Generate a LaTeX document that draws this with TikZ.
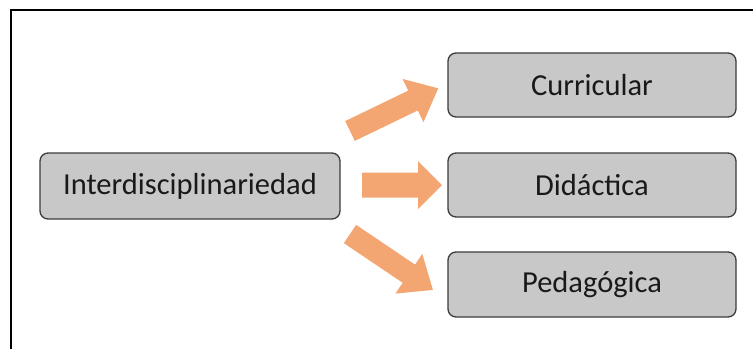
\documentclass[tikz,border=0pt]{standalone}
\usepackage{fontspec}
\setmainfont{Carlito}
\definecolor{boxfill}{RGB}{200,200,200}
\definecolor{boxline}{RGB}{60,60,60}
\definecolor{arrowfill}{RGB}{244,166,114}
\begin{document}
\begin{tikzpicture}[x=1pt,y=1pt,
  box/.style={draw=boxline, line width=1.3pt, fill=boxfill, rounded corners=8pt,
    inner sep=0pt, text=black!90, font=\fontsize{30.5}{36}\selectfont},
  blockarr/.style={fill=arrowfill, draw=none}]
\useasboundingbox (0,0) rectangle (753,-349);
\fill[white] (0,0) rectangle (753,-349);
% frame (top and left edges visible)
\draw[line width=1.4pt, black] (11,-349) -- (11,-10) -- (753,-10);
% boxes
\node[box, minimum width=300pt, minimum height=66pt] (main) at (190,-186) {Interdisciplinariedad};
\node[box, minimum width=288pt, minimum height=64pt] (cur) at (592,-85) {Curricular};
\node[box, minimum width=288pt, minimum height=64pt] (did) at (592,-185) {Didáctica};
\node[box, minimum width=288pt, minimum height=65pt] (ped) at (592,-284.5) {Pedagógica};
% block arrows
\begin{scope}[shift={(350,-131)}, rotate=25.8]
\fill[blockarr] (0,11) -- (70,11) -- (70,24) -- (98,0) -- (70,-24) -- (70,-11) -- (0,-11) -- cycle;
\end{scope}
\begin{scope}[shift={(362,-185)}]
\fill[blockarr] (0,12.5) -- (56,12.5) -- (56,24) -- (80,0) -- (56,-24) -- (56,-12.5) -- (0,-12.5) -- cycle;
\end{scope}
\begin{scope}[shift={(350,-234)}, rotate=-34]
\fill[blockarr] (0,11) -- (71,11) -- (71,24) -- (100,0) -- (71,-24) -- (71,-11) -- (0,-11) -- cycle;
\end{scope}
\end{tikzpicture}
\end{document}
